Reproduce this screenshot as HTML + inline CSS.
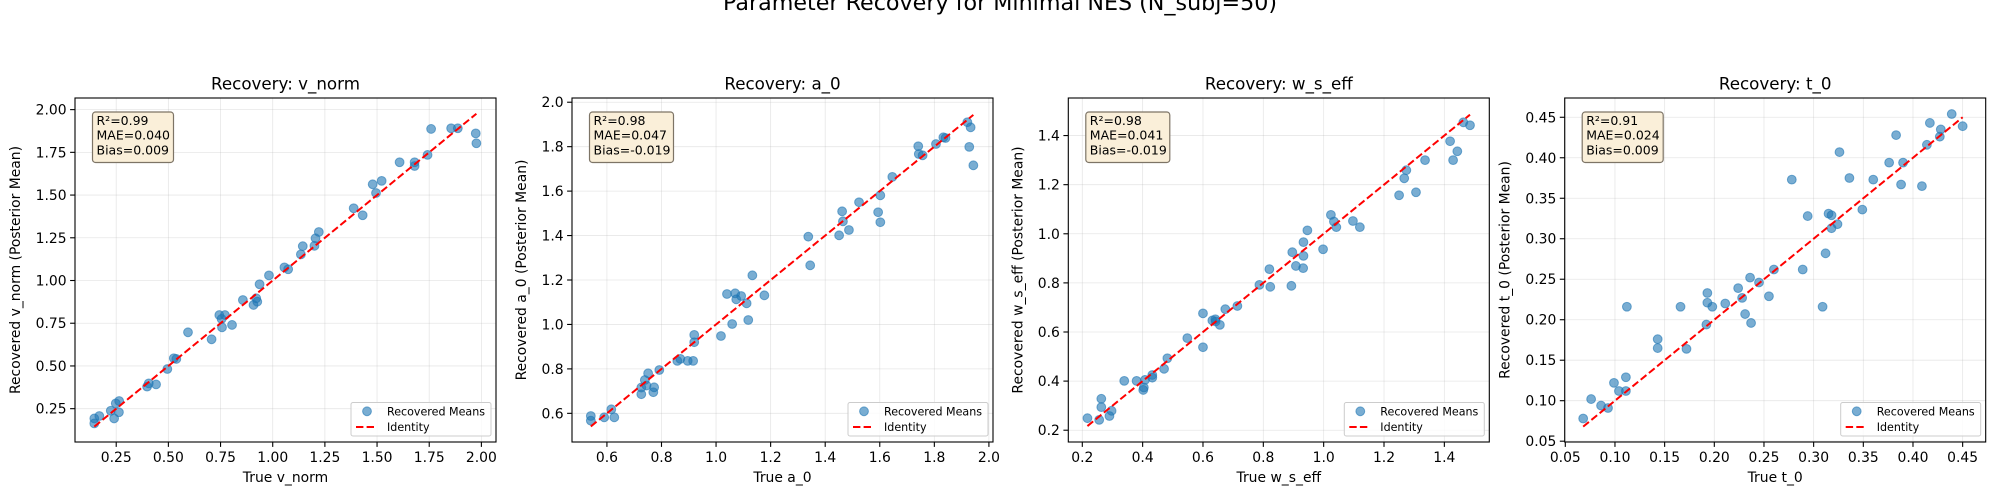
<!DOCTYPE html>
<html><head><meta charset="utf-8">
<style>
html,body{margin:0;padding:0;background:#fff;}
svg{display:block;font-family:"DejaVu Sans","Liberation Sans",sans-serif;}
</style></head>
<body>
<svg id="fig" width="2000" height="500" viewBox="0 0 2000 500" xmlns="http://www.w3.org/2000/svg">
<rect x="0" y="0" width="2000" height="500" fill="#fff"/>
<text x="1000" y="10" font-size="22" text-anchor="middle" textLength="554" lengthAdjust="spacingAndGlyphs" fill="#000">Parameter Recovery for Minimal NES (N_subj=50)</text>
</svg>
<script>
// ---- Panel 1: v_norm ----
const vnormTrue = [0.145,0.145,0.169,0.224,0.240,0.248,0.263,0.264,0.398,0.406,0.441,0.495,0.526,0.538,0.594,0.707,0.744,0.755,0.771,0.757,0.805,0.857,0.908,0.921,0.926,0.937,0.982,1.056,1.074,1.135,1.144,1.200,1.205,1.221,1.388,1.431,1.479,1.495,1.522,1.608,1.680,1.680,1.742,1.759,1.855,1.887,1.973,1.976];
const vnormRec = [0.193,0.164,0.207,0.238,0.193,0.281,0.229,0.295,0.379,0.398,0.392,0.482,0.545,0.541,0.697,0.656,0.798,0.775,0.798,0.726,0.740,0.886,0.857,0.896,0.876,0.978,1.030,1.077,1.066,1.153,1.201,1.203,1.247,1.284,1.423,1.382,1.563,1.512,1.583,1.692,1.692,1.670,1.735,1.887,1.891,1.891,1.861,1.803];
const vnormXTicks = [0.25,0.5,0.75,1.0,1.25,1.5,1.75,2.0];
const vnormXLabels = ["0.25","0.50","0.75","1.00","1.25","1.50","1.75","2.00"];
const vnormYTicks = [0.25,0.5,0.75,1.0,1.25,1.5,1.75,2.0];
const vnormYLabels = ["0.25","0.50","0.75","1.00","1.25","1.50","1.75","2.00"];
const vnormStats = ["R²=0.99","MAE=0.040","Bias=0.009"];

// ---- Panel 2: a_0 ----
const a0True = [0.541,0.541,0.590,0.616,0.627,0.726,0.726,0.739,0.751,0.745,0.770,0.773,0.792,0.858,0.869,0.896,0.916,0.920,0.920,1.018,1.040,1.059,1.070,1.074,1.092,1.112,1.118,1.133,1.177,1.338,1.345,1.451,1.462,1.465,1.487,1.524,1.594,1.602,1.602,1.646,1.741,1.743,1.757,1.806,1.833,1.841,1.921,1.933,1.928,1.943];
const a0Rec = [0.588,0.567,0.582,0.618,0.582,0.686,0.716,0.750,0.780,0.725,0.695,0.717,0.795,0.836,0.845,0.836,0.836,0.953,0.920,0.948,1.137,1.002,1.140,1.113,1.128,1.095,1.020,1.221,1.131,1.395,1.266,1.401,1.509,1.464,1.425,1.550,1.505,1.581,1.460,1.664,1.802,1.767,1.761,1.812,1.842,1.839,1.910,1.887,1.799,1.716];
const a0XTicks = [0.6,0.8,1.0,1.2,1.4,1.6,1.8,2.0];
const a0XLabels = ["0.6","0.8","1.0","1.2","1.4","1.6","1.8","2.0"];
const a0YTicks = [0.6,0.8,1.0,1.2,1.4,1.6,1.8,2.0];
const a0YLabels = ["0.6","0.8","1.0","1.2","1.4","1.6","1.8","2.0"];
const a0Stats = ["R²=0.98","MAE=0.047","Bias=-0.019"];

// ---- Panel 3: w_s_eff ----
const wsTrue = [0.217,0.256,0.263,0.263,0.290,0.297,0.339,0.380,0.402,0.404,0.408,0.432,0.432,0.471,0.482,0.548,0.600,0.600,0.631,0.641,0.642,0.656,0.674,0.714,0.787,0.820,0.823,0.893,0.896,0.908,0.932,0.933,0.933,0.946,0.998,1.024,1.034,1.042,1.097,1.120,1.250,1.267,1.274,1.306,1.336,1.419,1.429,1.443,1.463,1.485];
const wsRec = [0.249,0.242,0.328,0.294,0.258,0.279,0.401,0.401,0.364,0.374,0.405,0.425,0.414,0.450,0.493,0.575,0.538,0.676,0.647,0.652,0.643,0.629,0.693,0.706,0.792,0.856,0.784,0.788,0.925,0.869,0.860,0.910,0.966,1.014,0.937,1.077,1.050,1.027,1.052,1.027,1.157,1.226,1.259,1.169,1.300,1.377,1.300,1.336,1.454,1.442];
const wsXTicks = [0.2,0.4,0.6,0.8,1.0,1.2,1.4];
const wsXLabels = ["0.2","0.4","0.6","0.8","1.0","1.2","1.4"];
const wsYTicks = [0.2,0.4,0.6,0.8,1.0,1.2,1.4];
const wsYLabels = ["0.2","0.4","0.6","0.8","1.0","1.2","1.4"];
const wsStats = ["R²=0.98","MAE=0.041","Bias=-0.019"];

// ---- Panel 4: t_0 ----
const t0True = [0.068,0.076,0.086,0.093,0.099,0.104,0.111,0.111,0.112,0.143,0.143,0.166,0.172,0.192,0.193,0.193,0.198,0.211,0.224,0.228,0.231,0.236,0.237,0.245,0.255,0.260,0.278,0.289,0.294,0.309,0.312,0.315,0.318,0.318,0.324,0.326,0.336,0.349,0.360,0.376,0.383,0.388,0.390,0.409,0.414,0.417,0.427,0.428,0.439,0.450];
const t0Rec = [0.078,0.102,0.094,0.091,0.122,0.112,0.112,0.129,0.216,0.176,0.165,0.216,0.164,0.194,0.233,0.221,0.216,0.220,0.239,0.227,0.207,0.252,0.196,0.246,0.229,0.262,0.373,0.262,0.328,0.216,0.282,0.331,0.329,0.313,0.318,0.407,0.375,0.336,0.373,0.394,0.428,0.367,0.394,0.365,0.416,0.443,0.426,0.435,0.454,0.439];
const t0XTicks = [0.05,0.10,0.15,0.20,0.25,0.30,0.35,0.40,0.45];
const t0XLabels = ["0.05","0.10","0.15","0.20","0.25","0.30","0.35","0.40","0.45"];
const t0YTicks = [0.05,0.10,0.15,0.20,0.25,0.30,0.35,0.40,0.45];
const t0YLabels = ["0.05","0.10","0.15","0.20","0.25","0.30","0.35","0.40","0.45"];
const t0Stats = ["R²=0.91","MAE=0.024","Bias=0.009"];

const NS = "http://www.w3.org/2000/svg";
const svg = document.getElementById('fig');
function mk(tag, attrs, parent){
  const e = document.createElementNS(NS, tag);
  for (const k in attrs) e.setAttribute(k, attrs[k]);
  (parent||svg).appendChild(e);
  return e;
}

const panels = [
  {key:'v-norm', name:'v_norm', left:75, ylo:55, xd:[0.0525,2.07], yd:[0.055,2.068], xs:vnormTrue, ys:vnormRec, xt:vnormXTicks, xl:vnormXLabels, yt:vnormYTicks, yl:vnormYLabels, st:vnormStats},
  {key:'a-0', name:'a_0', left:572, ylo:46, xd:[0.472,2.015], yd:[0.471,2.019], xs:a0True, ys:a0Rec, xt:a0XTicks, xl:a0XLabels, yt:a0YTicks, yl:a0YLabels, st:a0Stats},
  {key:'w-s-eff', name:'w_s_eff', left:1068.3, ylo:46, xd:[0.1536,1.549], yd:[0.152,1.553], xs:wsTrue, ys:wsRec, xt:wsXTicks, xl:wsXLabels, yt:wsYTicks, yl:wsYLabels, st:wsStats},
  {key:'t-0', name:'t_0', left:1564.7, ylo:55, xd:[0.0494,0.4732], yd:[0.049,0.4738], xs:t0True, ys:t0Rec, xt:t0XTicks, xl:t0XLabels, yt:t0YTicks, yl:t0YLabels, st:t0Stats}
];
const TOP = 98, BOT = 442, W = 421;

panels.forEach(p => {
  const L = p.left, R = L + W;
  const sx = v => L + (v - p.xd[0]) / (p.xd[1] - p.xd[0]) * W;
  const sy = v => BOT - (v - p.yd[0]) / (p.yd[1] - p.yd[0]) * (BOT - TOP);
  const g = mk('g', {});
  
  

  p.xt.forEach((t, i) => {
    const x = sx(t);
    const gl = mk('line', {x1:x, x2:x, y1:TOP, y2:BOT, stroke:'#b0b0b0', 'stroke-opacity':0.3, 'stroke-width':0.8}, g);
    
    
    mk('line', {x1:x, x2:x, y1:BOT, y2:BOT+4.9, stroke:'#000', 'stroke-width':1.1}, g);
    const tl = mk('text', {x:x, y:BOT+20, 'font-size':13.9, 'text-anchor':'middle', fill:'#000'}, g);
    tl.textContent = p.xl[i];
    
    
  });
  p.yt.forEach((t, i) => {
    const y = sy(t);
    const gl = mk('line', {x1:L, x2:R, y1:y, y2:y, stroke:'#b0b0b0', 'stroke-opacity':0.3, 'stroke-width':0.8}, g);
    
    
    mk('line', {x1:L-4.9, x2:L, y1:y, y2:y, stroke:'#000', 'stroke-width':1.1}, g);
    const tl = mk('text', {x:L-8.4, y:y+5, 'font-size':13.9, 'text-anchor':'end', fill:'#000'}, g);
    tl.textContent = p.yl[i];
    
    
  });

  p.xs.forEach((xv, i) => {
    const c = mk('circle', {cx:sx(xv), cy:sy(p.ys[i]), r:4.4, fill:'#1f77b4', 'fill-opacity':0.6, stroke:'#1f77b4', 'stroke-opacity':0.6, 'stroke-width':1}, g);
    
    
  });

  const lo = Math.min(...p.xs);
  const hi = Math.max(...p.xs);
  const idl = mk('line', {x1:sx(lo), y1:sy(lo), x2:sx(hi), y2:sy(hi), stroke:'#ff0000', 'stroke-width':2, 'stroke-dasharray':'7.4,3.2'}, g);
  
  

  const fr = mk('rect', {x:L, y:TOP, width:W, height:BOT-TOP, fill:'none', stroke:'#000', 'stroke-width':1.1}, g);
  
  

  const tt = mk('text', {x:L+W/2, y:89.5, 'font-size':16.7, 'text-anchor':'middle', fill:'#000'}, g);
  tt.textContent = 'Recovery: ' + p.name;
  
  

  const xlb = mk('text', {x:L+W/2, y:482, 'font-size':13.9, 'text-anchor':'middle', fill:'#000'}, g);
  xlb.textContent = 'True ' + p.name;
  
  
  const yx = L - p.ylo;
  const ylb = mk('text', {x:0, y:0, 'font-size':13.9, 'text-anchor':'middle', fill:'#000', transform:'translate(' + yx + ',' + ((TOP+BOT)/2) + ') rotate(-90)'}, g);
  ylb.textContent = 'Recovered ' + p.name + ' (Posterior Mean)';
  
  

  const bw = p.st[2].length > 10 ? 84 : 81;
  const sb = mk('rect', {x:L+17.5, y:112, width:bw, height:50.5, rx:3, fill:'#faefd9', stroke:'#7d7466', 'stroke-width':1.2}, g);
  
  
  p.st.forEach((s, i) => {
    const t = mk('text', {x:L+21.5, y:125+i*14.7, 'font-size':12.5, fill:'#000'}, g);
    t.textContent = s;
    
    
  });

  const lg = mk('g', {}, g);
  
  
  const lx = R - 145, ly = 402.5;
  mk('rect', {x:lx, y:ly, width:140, height:33.5, rx:2, fill:'#fff', 'fill-opacity':0.8, stroke:'#cccccc', 'stroke-width':1}, lg);
  const lm = mk('circle', {cx:lx+16, cy:ly+8.8, r:4.4, fill:'#1f77b4', 'fill-opacity':0.6, stroke:'#1f77b4', 'stroke-opacity':0.6}, lg);
  
  
  const t1 = mk('text', {x:lx+36, y:ly+12.8, 'font-size':11.1, fill:'#000'}, lg);
  t1.textContent = 'Recovered Means';
  const ll = mk('line', {x1:lx+5, x2:lx+24, y1:ly+24.5, y2:ly+24.5, stroke:'#ff0000', 'stroke-width':2, 'stroke-dasharray':'7.4,3.2'}, lg);
  
  
  const t2 = mk('text', {x:lx+36, y:ly+28.6, 'font-size':11.1, fill:'#000'}, lg);
  t2.textContent = 'Identity';
});
</script>
</body></html>
